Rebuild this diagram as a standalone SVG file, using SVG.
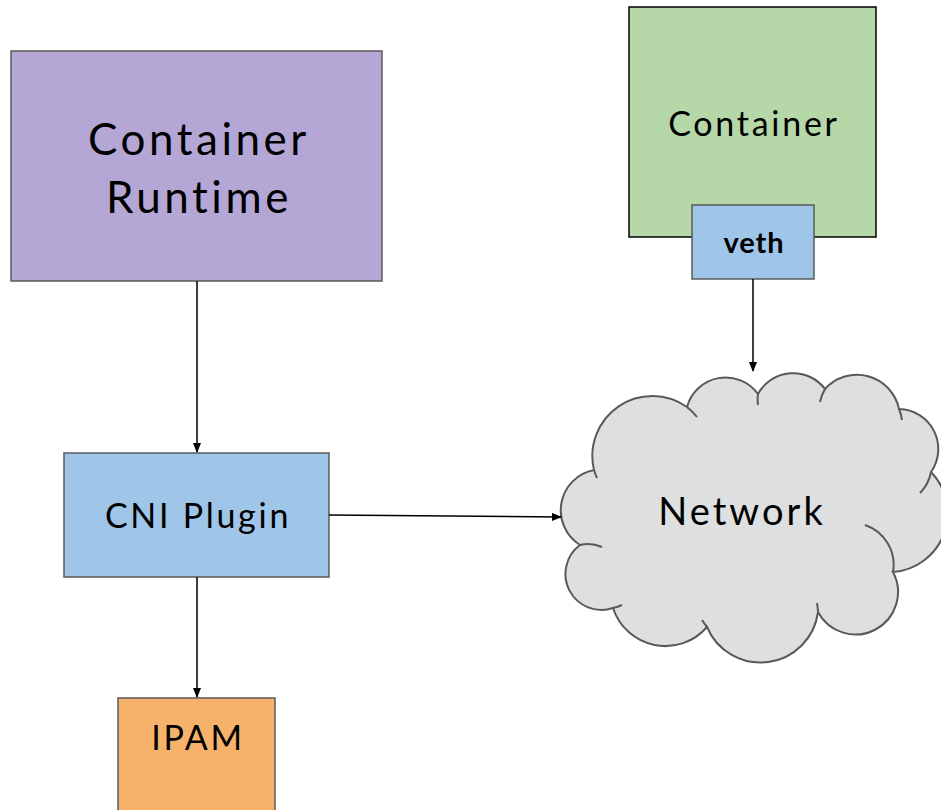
<svg xmlns="http://www.w3.org/2000/svg" width="941" height="810" viewBox="0 0 941 810">
<style>
  text { font-family: "Lato", "Open Sans", "Liberation Sans", sans-serif; fill: #000; text-anchor: middle; letter-spacing: 0.08em; }
  .box { stroke: #595959; stroke-width: 1.5; }
  .conn { stroke: #000; stroke-width: 1.5; fill: none; }
  .cloud { fill: #dedfe1; stroke: #595959; stroke-width: 2; }
  .tail { fill: none; stroke: #595959; stroke-width: 2; }
</style>
<defs>
  <marker id="arrow" markerWidth="10" markerHeight="10" refX="9" refY="4" orient="auto" markerUnits="userSpaceOnUse">
    <path d="M0,0 L10,4 L0,8 Z" fill="#000"/>
  </marker>
</defs>
<rect width="941" height="810" fill="#fff"/>

<g id="container-runtime">
  <rect class="box" x="11" y="51" width="371" height="230" fill="#b4a7d6"/>
  <text x="199" y="155" font-size="44">Container</text>
  <text x="199" y="213" font-size="44">Runtime</text>
</g>

<g id="container">
  <rect x="629" y="7" width="247" height="230" fill="#b6d7a8" stroke="#000" stroke-width="1.5"/>
  <text x="754" y="136" font-size="34">Container</text>
</g>

<g id="veth">
  <rect class="box" x="692" y="205" width="122" height="74" fill="#9fc5e8"/>
  <text x="754" y="253" font-size="29" font-weight="bold" style="letter-spacing:0.03em">veth</text>
</g>

<g id="cni-plugin">
  <rect class="box" x="64" y="453" width="265" height="124" fill="#9fc5e8"/>
  <text x="198" y="528" font-size="34">CNI Plugin</text>
</g>

<g id="ipam">
  <rect class="box" x="118" y="698" width="157" height="120" fill="#f6b26b"/>
  <text x="198" y="750" font-size="34">IPAM</text>
</g>

<g id="network">
  <path class="cloud" d="M594,470
    A60,60 0 0 1 687,407
    A40,40 0 0 1 758,394
    A40,40 0 0 1 825,389
    A43,43 0 0 1 899,409
    A40,40 0 0 1 931,472
    A59,59 0 0 1 893,572
    A42,42 0 0 1 818,612
    A58,58 0 0 1 707,627
    A55,55 0 0 1 613,608
    A36,36 0 0 1 580,545
    A41,41 0 0 1 594,470 Z"/>
  <path class="tail" d="M597,478 A60,60 0 0 1 594,470
    M687,407 A60,60 0 0 1 697,417
    M758,405 A40,40 0 0 1 758,394
    M820,402 A43,43 0 0 1 825,389
    M899,409 A43,43 0 0 1 902,420
    M931,472 A40,40 0 0 1 920,493
    M865,525 A42,42 0 0 1 893,572
    M817,603 A58,58 0 0 1 818,612
    M707,627 A58,58 0 0 1 702,620
    M622,605 A36,36 0 0 1 613,608
    M580,545 A36,36 0 0 1 602,547"/>
  <text x="742" y="525" font-size="38">Network</text>
</g>

<g id="connectors">
  <line class="conn" x1="197" y1="281" x2="197" y2="452" marker-end="url(#arrow)"/>
  <line class="conn" x1="197" y1="577" x2="197" y2="697" marker-end="url(#arrow)"/>
  <line class="conn" x1="753" y1="279" x2="753" y2="371" marker-end="url(#arrow)"/>
  <line class="conn" x1="329" y1="515" x2="561" y2="517" marker-end="url(#arrow)"/>
</g>
</svg>
